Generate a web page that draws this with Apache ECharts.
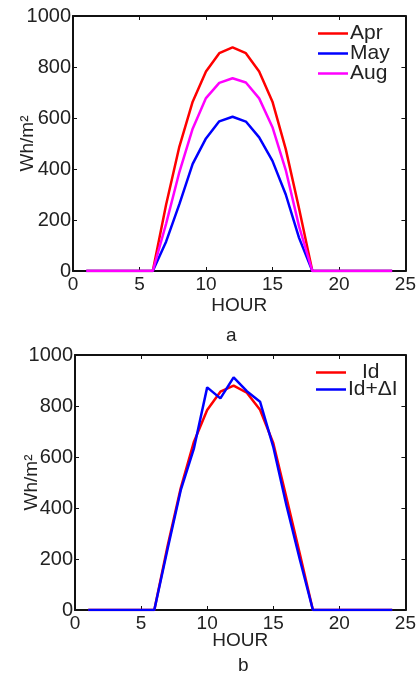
<!DOCTYPE html>
<html>
<head>
<meta charset="utf-8">
<script src="https://cdn.jsdelivr.net/npm/echarts@6/dist/echarts.min.js"></script>
<style>
html,body{margin:0;padding:0;background:#fff;}
#c{width:419px;height:677px;}
</style>
</head>
<body>
<div id="c"></div>
<script>
// ---- data ----
var hours = [1,2,3,4,5,6,7,8,9,10,11,12,13,14,15,16,17,18,19,20,21,22,23,24];
var apr  = [0,0,0,0,0,0,260,488,664,782,854,877,854,782,664,478,245,0,0,0,0,0,0,0];
var may  = [0,0,0,0,0,0,115,262,420,520,587,605,586,524,432,300,130,0,0,0,0,0,0,0];
var aug  = [0,0,0,0,0,0,185,388,558,678,738,756,739,677,564,396,175,0,0,0,0,0,0,0];
var idBase = [0,0,0,0,0,0,250,478,660,784,856,880,852,785,655,440,222,0,0,0,0,0,0,0];
var idPlus = [0,0,0,0,0,0,238,470,634,873,830,912,858,817,640,410,200,0,0,0,0,0,0,0];
var xTicks = [0,5,10,15,20,25];
var yTicks = [0,200,400,600,800,1000];

function pairs(ys){ return hours.map(function(h,i){ return [h, ys[i]]; }); }

var FONT = 'Liberation Sans, Arial, sans-serif';
var TXT = '#222';
var FS = 19;
var LFS = 21;

function xAx(grid, pos, show, gap){
  return {
    type:'value', gridIndex:grid, position:pos, min:xTicks[0], max:xTicks[xTicks.length-1], interval:5,
    name: show ? 'HOUR' : '', nameLocation:'middle', nameGap: gap, nameMoveOverlap:false,
    nameTextStyle:{fontFamily:FONT, fontSize:FS, color:TXT},
    axisLine:{show:true, onZero:false, lineStyle:{color:'#111', width:2}},
    axisTick:{show:true, inside:true, length:4, lineStyle:{color:'#111', width:1}},
    axisLabel:{show:show, margin:4, fontFamily:FONT, fontSize:FS, color:TXT, formatter:function(v){return String(v);}},
    splitLine:{show:false}
  };
}
function yAx(grid, pos, show, gap){
  return {
    type:'value', gridIndex:grid, position:pos, min:yTicks[0], max:yTicks[yTicks.length-1], interval:200,
    name: show ? 'Wh/m²' : '', nameLocation:'middle', nameGap: gap, nameRotate:90, nameMoveOverlap:false,
    nameTextStyle:{fontFamily:FONT, fontSize:FS, color:TXT},
    axisLine:{show:true, onZero:false, lineStyle:{color:'#111', width:2}},
    axisTick:{show:true, inside:true, length:4, lineStyle:{color:'#111', width:1}},
    axisLabel:{show:show, margin:2, fontFamily:FONT, fontSize:20, color:TXT, formatter:function(v){return String(v);}},
    splitLine:{show:false}
  };
}
function ser(name, data, color, xi, yi){
  return {type:'line', name:name, data:pairs(data), xAxisIndex:xi, yAxisIndex:yi,
    showSymbol:false, symbol:'none', lineStyle:{color:color, width:2.5}, itemStyle:{color:color},
    animation:false, z:3};
}

var chart = echarts.init(document.getElementById('c'), null, {renderer:'canvas'});
chart.setOption({
  backgroundColor:'#fff',
  animation:false,
  grid:[
    {left:73, top:16, width:333, height:255},
    {left:75, top:355, width:332, height:255}
  ],
  xAxis:[ xAx(0,'bottom',true,25), xAx(0,'top',false,0), xAx(1,'bottom',true,21), xAx(1,'top',false,0) ],
  yAxis:[ yAx(0,'left',true,36), yAx(0,'right',false,0), yAx(1,'left',true,34), yAx(1,'right',false,0) ],
  legend:[
    {data:['Apr','May','Aug'], left:318, top:23, orient:'vertical', icon:'rect', itemWidth:30, itemHeight:2.5,
     itemGap:-1, textStyle:{fontFamily:FONT, fontSize:LFS, color:TXT, padding:[0,0,0,-3]}, padding:0},
    {data:['Id','Id+ΔI'], left:316, top:362, orient:'vertical', icon:'rect', itemWidth:30, itemHeight:2.5,
     itemGap:-4, padding:0,
     formatter:function(n){ return n==='Id' ? '{a|Id}' : n; },
     textStyle:{fontFamily:FONT, fontSize:LFS, color:TXT, padding:[0,0,0,-3], rich:{a:{fontFamily:FONT, fontSize:LFS, color:TXT, padding:[0,0,0,14]}}}}
  ],
  graphic:[
    {type:'text', left:226, top:326, style:{text:'a', font:FS+'px '+FONT, fill:TXT}},
    {type:'text', left:238, top:656, style:{text:'b', font:FS+'px '+FONT, fill:TXT}}
  ],
  series:[
    ser('Apr', apr, '#ff0000', 0, 0),
    ser('May', may, '#0000ff', 0, 0),
    ser('Aug', aug, '#ff00ff', 0, 0),
    ser('Id', idBase, '#ff0000', 2, 2),
    ser('Id+ΔI', idPlus, '#0000ff', 2, 2)
  ]
});
</script>
</body>
</html>
